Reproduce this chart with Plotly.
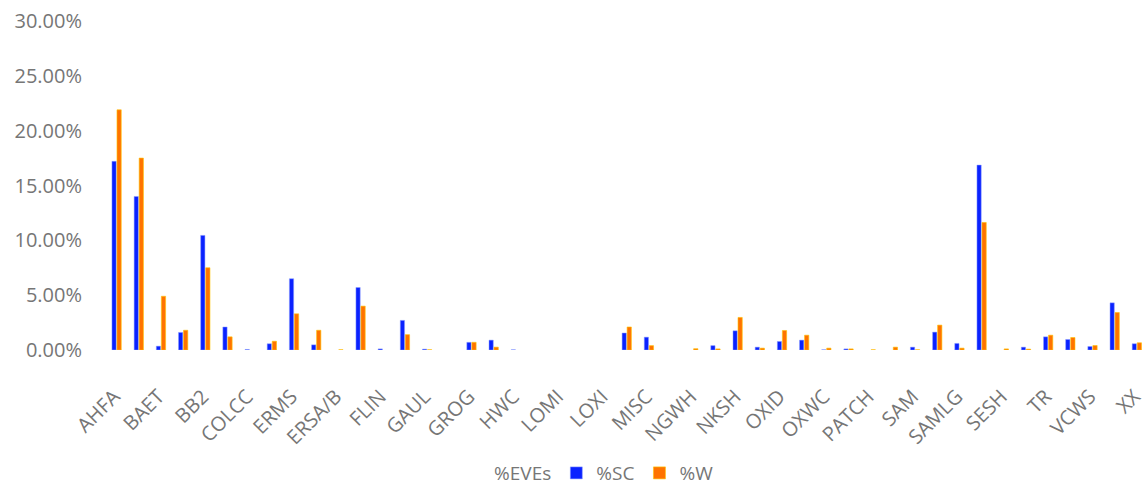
import plotly.graph_objects as go

# 47 categories; only every other one is labelled in the reference picture.
labelled = ["AHFA", "BAET", "BB2", "COLCC", "ERMS", "ERSA/B", "FLIN", "GAUL", "GROG",
            "HWC", "LOMI", "LOXI", "MISC", "NGWH", "NKSH", "OXID", "OXWC", "PATCH",
            "SAM", "SAMLG", "SESH", "TR", "VCWS", "XX"]
categories = []
for i, lab in enumerate(labelled):
    categories.append(lab)
    if i < len(labelled) - 1:
        categories.append(f"{lab} ·")  # unlabelled category (name hidden in reference)

eves = [None] * len(categories)

sc = [0.172, 0.140, 0.0035, 0.016, 0.1045, 0.021, 0.0005, 0.0057, 0.065, 0.0047,
      None, 0.057, 0.001, 0.027, 0.0008, None, 0.007, 0.009, 0.0002, None,
      None, None, None, 0.0155, 0.0117, None, None, 0.004, 0.0175, 0.0026,
      0.0078, 0.009, 0.0002, 0.001, None, None, 0.0026, 0.0163, 0.006, 0.1686,
      None, 0.0026, 0.012, 0.0096, 0.0032, 0.043, 0.0057]

w = [0.219, 0.175, 0.049, 0.018, 0.075, 0.012, None, 0.008, 0.033, 0.018,
     0.0002, 0.040, None, 0.014, 0.0002, None, 0.007, 0.0026, None, None,
     None, None, None, 0.021, 0.004, None, 0.0012, 0.001, 0.0297, 0.0017,
     0.0178, 0.0135, 0.0017, 0.001, 0.0002, 0.0026, 0.0002, 0.0227, 0.0017, 0.1163,
     0.001, 0.0008, 0.0135, 0.0114, 0.0041, 0.0342, 0.0066]

FONT = "Open Sans"
GREY = "#767676"

fig = go.Figure()
fig.add_trace(go.Bar(name="%EVEs", x=categories, y=eves,
                     marker=dict(color="rgba(0,0,0,0)", line=dict(width=0))))
fig.add_trace(go.Bar(name="%SC", x=categories, y=sc,
                     marker=dict(color="#0A22FF", line=dict(color="#8fa0ff", width=0.5))))
fig.add_trace(go.Bar(name="%W", x=categories, y=w,
                     marker=dict(color="#FF7300", line=dict(color="#FFC400", width=0.6))))

fig.update_layout(
    width=1143, height=486,
    margin=dict(l=103, r=0, t=21, b=136, autoexpand=False),
    paper_bgcolor="white", plot_bgcolor="white",
    barmode="group", bargap=0.32, bargroupgap=0.15,
    font=dict(family=FONT, size=20, color=GREY),
    legend=dict(orientation="h", x=0.465, xanchor="center", y=-0.374, yanchor="middle",
                font=dict(family=FONT, size=19, color=GREY), itemwidth=30,
                traceorder="normal"),
    showlegend=True,
)
fig.update_xaxes(type="category", categoryorder="array", categoryarray=categories,
                 range=[-0.5, 46.39], tickmode="array", tickvals=labelled, ticktext=labelled,
                 tickangle=-45, showgrid=False, zeroline=False, showline=False, ticks="",
                 ticklabelstandoff=30, automargin=False,
                 tickfont=dict(family=FONT, size=20, color=GREY))
fig.update_yaxes(range=[0, 0.30], dtick=0.05, tickformat=".2%", showgrid=False,
                 zeroline=False, showline=False, ticks="", ticklabelstandoff=20,
                 automargin=False,
                 tickfont=dict(family=FONT, size=20, color=GREY))

fig.write_html(
    "out.html",
    config={"displayModeBar": False},
    post_script="document.body.style.margin='0';document.body.style.overflow='hidden';",
)
